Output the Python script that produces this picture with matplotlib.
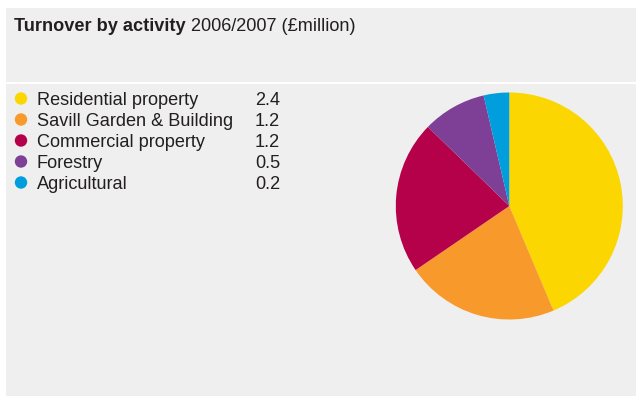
import matplotlib
matplotlib.use("Agg")
import matplotlib.pyplot as plt
from matplotlib.patches import Rectangle, Ellipse

# Turnover by activity, 2006/2007 (£million)
activities = ["Residential property", "Savill Garden & Building",
              "Commercial property", "Forestry", "Agricultural"]
turnover = [2.4, 1.2, 1.2, 0.5, 0.2]
value_labels = ["2.4", "1.2", "1.2", "0.5", "0.2"]
slice_colors = ["#FBD600", "#F7992B", "#B5004A", "#7E3F96", "#009EDD"]

W, H = 643, 396
DPI = 100
PANEL = "#EEEFEE"
TEXT = "#231F20"

plt.rcParams["font.family"] = ["Liberation Sans", "DejaVu Sans"]

fig = plt.figure(figsize=(W / DPI, H / DPI), dpi=DPI, facecolor="white")


def px(x, y):
    # pixel coords (origin top-left) -> figure fraction
    return x / W, 1 - y / H


# grey panel with a white divider under the title
fig.patches.append(Rectangle((6 / W, 0), 630 / W, 1 - 8 / H,
                             transform=fig.transFigure, facecolor=PANEL,
                             edgecolor="none", zorder=-2))
fig.patches.append(Rectangle((6 / W, 1 - 83.5 / H), 630 / W, 1.5 / H,
                             transform=fig.transFigure, facecolor="white",
                             edgecolor="none", zorder=-1))

# title: bold part followed by regular part
fs_px = 18.2
fs = fs_px * 72 / DPI
t1 = fig.text(*px(14, 31), "Turnover by activity", fontsize=fs,
              fontweight="bold", color=TEXT, va="baseline", ha="left")
fig.canvas.draw()
bb = t1.get_window_extent()
fig.text(bb.x1 / W + 5 / W, 1 - 31 / H, "2006/2007 (£million)", fontsize=fs,
         color=TEXT, va="baseline", ha="left")

# legend rows
row_y0 = 98.5
row_step = 21
for i, (name, val, col) in enumerate(zip(activities, value_labels, slice_colors)):
    y = row_y0 + i * row_step
    fig.patches.append(Ellipse(px(21, y), 12.4 / W, 12.4 / H,
                               transform=fig.transFigure,
                               facecolor=col, edgecolor="none", zorder=2))
    fig.text(*px(37, y + 6.5), name, fontsize=fs, color=TEXT,
             va="baseline", ha="left")
    fig.text(*px(255, y + 6.5), val, fontsize=fs, color=TEXT,
             va="baseline", ha="left")

# pie
cx, cy, r = 509.3, 206, 113.5
ax = fig.add_axes([(cx - r) / W, (H - cy - r) / H, 2 * r / W, 2 * r / H],
                  zorder=5)
ax.pie(turnover, colors=slice_colors, startangle=90, counterclock=False,
       radius=1, wedgeprops=dict(linewidth=0))
ax.set_xlim(-1, 1)
ax.set_ylim(-1, 1)
ax.axis("off")

fig.savefig("out.png", dpi=DPI, facecolor="white")
